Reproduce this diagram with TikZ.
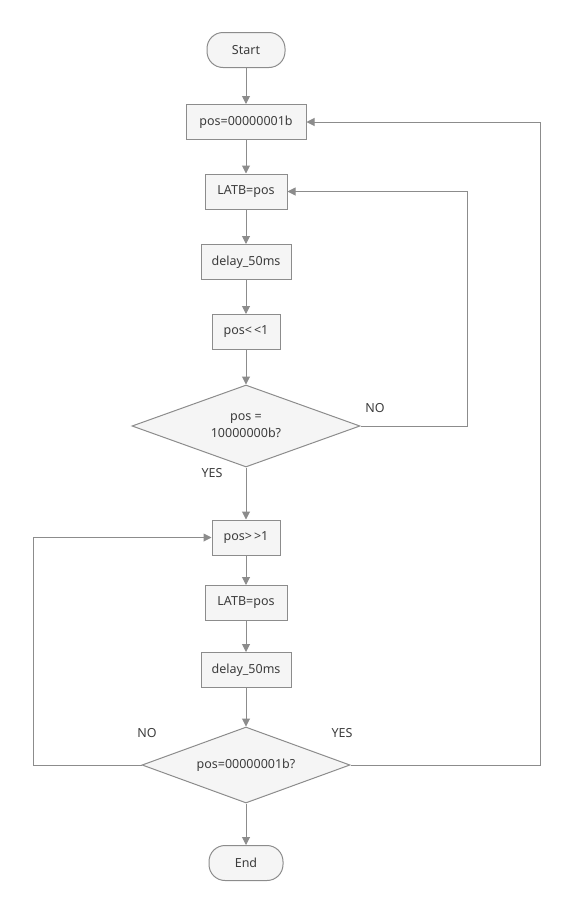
\documentclass[tikz,border=0pt]{standalone}
\usepackage{fontspec}
\setmainfont{Noto Sans}
\usetikzlibrary{shapes.geometric,arrows.meta}
\definecolor{edgegray}{HTML}{8C8C8C}
\definecolor{boxfill}{HTML}{F5F5F5}
\definecolor{ink}{HTML}{3C3C3C}
\begin{document}
\begin{tikzpicture}[x=1pt,y=-1pt,
  base/.style={draw=edgegray, fill=boxfill, line width=1pt, text=ink,
    font=\fontsize{12.5}{17}\selectfont, inner sep=0pt, align=center},
  procbox/.style={base, rectangle, minimum height=35pt},
  termbox/.style={base, rectangle, rounded corners=16pt, minimum height=35pt},
  decision/.style={base, diamond},
  conn/.style={draw=edgegray, line width=1pt, -{Triangle[length=8pt,width=8pt]}},
  lbl/.style={text=ink, font=\fontsize{12.5}{14}\selectfont, inner sep=0pt}]
\useasboundingbox (0,0) rectangle (570,913);

\node[termbox, minimum width=78pt] (start) at (246,50) {Start};
\node[procbox, minimum width=120pt] (init) at (246,122) {pos=00000001b};
\node[procbox, minimum width=82pt] (out1) at (246,191.5) {LATB=pos};
\node[procbox, minimum width=90pt] (wait1) at (246,262) {delay\_50ms};
\node[procbox, minimum width=68pt] (shl) at (246,332) {pos<\,<1};
\node[decision, minimum width=228pt, minimum height=82pt, aspect=2.78] (top) at (246,426) {pos =\\10000000b?};
\node[procbox, minimum width=68pt] (shr) at (246,537.5) {pos>\,>1};
\node[procbox, minimum width=82pt] (out2) at (246,603) {LATB=pos};
\node[procbox, minimum width=90pt] (wait2) at (246,670) {delay\_50ms};
\node[decision, minimum width=208pt, minimum height=76pt, aspect=2.74] (bottom) at (246,765) {pos=00000001b?};
\node[termbox, minimum width=74pt] (stop) at (246,863) {End};

\draw[conn] (start) -- (init);
\draw[conn] (init) -- (out1);
\draw[conn] (out1) -- (wait1);
\draw[conn] (wait1) -- (shl);
\draw[conn] (shl) -- (top);
\draw[conn] (top.east) -- ++(107,0) |- (out1.east);
\draw[conn] (top.south) -- (shr.north);
\draw[conn] (shr) -- (out2);
\draw[conn] (out2) -- (wait2);
\draw[conn] (wait2) -- (bottom.north);
\draw[conn] (bottom.west) -- ++(-108,0) |- (shr.west);
\draw[conn] (bottom.east) -- ++(190,0) |- (init.east);
\draw[conn] (bottom.south) -- (stop.north);

\node[lbl] (no1) at (375,408) {NO};
\node[lbl] (yes1) at (212,473) {YES};
\node[lbl] (no2) at (147,733) {NO};
\node[lbl] (yes2) at (342,733) {YES};
\end{tikzpicture}
\end{document}
